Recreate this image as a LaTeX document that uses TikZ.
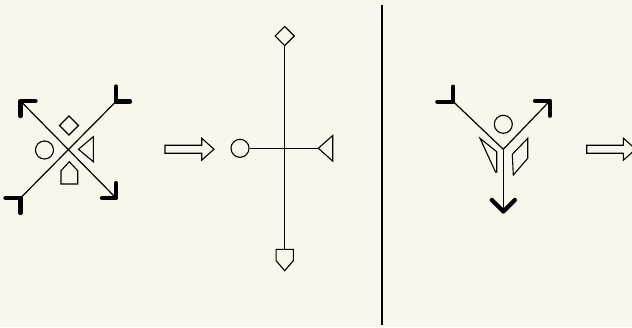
\documentclass[tikz,border=0pt]{standalone}
\usetikzlibrary{shapes.geometric}
\definecolor{paper}{RGB}{249,247,235}
\begin{document}
\begin{tikzpicture}[x=1pt, y=-1pt,
  ln/.style={line width=1.2pt},
  sym/.style={draw, line width=1.1pt, line join=miter},
  dot/.style={sym, circle, minimum size=18pt, inner sep=0pt},
  gem/.style={sym, diamond, minimum size=19.5pt, inner sep=0pt},
  barb/.style={line width=4.3pt, line cap=round, line join=round},
  hollow/.pic={\draw[sym] (0,-4) -- (36.7,-4) -- (36.7,-11) -- (49,0)
                 -- (36.7,11) -- (36.7,4) -- (0,4) -- cycle;},
]
  \fill[paper] (0,0) rectangle (632,327);
  \clip (0,0) rectangle (632,327);

  % crossed pair
  \coordinate (ul) at (20.5,101);
  \coordinate (ur) at (116,101.5);
  \coordinate (ll) at (20.5,198);
  \coordinate (lr) at (116,198);
  \draw[ln] (ul) -- (lr);
  \draw[ln] (ll) -- (ur);
  \draw[barb] (ul) ++(15,0) -- (ul) -- ++(0,15);
  \draw[barb] (lr) ++(-14,0) -- (lr) -- ++(0,-15);
  \draw[barb] (ur) ++(14,0) -- (ur) -- ++(0,-15);
  \draw[barb] (ll) ++(-15,0) -- (ll) -- ++(0,15);
  \node[gem] (d1) at (69,125.5) {};
  \node[dot] (o1) at (44.5,150) {};
  \draw[sym] (78.5,149.3) -- (93.3,136.7) -- (93.3,161.7) -- cycle;
  \draw[sym] (69.3,161.7) -- (77.7,170.7) -- (77.7,184) -- (61,184) -- (61,170.7) -- cycle;

  \pic at (165,149.2) {hollow};

  % upright cross
  \node[gem] (d2) at (284.7,36) {};
  \node[dot] (o2) at (240,148.3) {};
  \coordinate (t2) at (318.3,148.3);
  \coordinate (p2) at (284.7,249.3);
  \draw[ln] (d2.south) -- (p2);
  \draw[ln] (o2.east) -- (t2);
  \draw[sym] (t2) -- (332.7,135.5) -- (332.7,161.1) -- cycle;
  \draw[sym] (276.1,249.3) -- (293.3,249.3) -- (293.3,260.7) -- (284.7,270.7)
    -- (276.1,260.7) -- cycle;

  \draw[ln] (382,4.7) -- (382,325);

  % three arms
  \coordinate (c3) at (503.3,149.3);
  \coordinate (yl) at (453.3,101.7);
  \coordinate (yr) at (550,100.7);
  \coordinate (yd) at (503.3,211.5);
  \draw[ln] (yl) -- (c3) -- (yr);
  \draw[ln] (c3) -- (yd);
  \draw[barb] (yl) ++(-16,0) -- (yl) -- ++(0,-15);
  \draw[barb] (yr) ++(-15,0) -- (yr) -- ++(0,15);
  \draw[barb] (yd) ++(-11.5,-11.5) -- (yd) -- ++(11.5,-11.5);
  \node[dot] (o3) at (503.3,124.3) {};
  \draw[sym] (480,138.3) -- (496.7,151.7) -- (496.7,172) -- (495.5,172) -- cycle;
  \draw[sym] (512.3,154.3) -- (527.7,138.3) -- (527.7,158.3) -- (513.3,175) -- cycle;

  \pic at (586.7,149.2) {hollow};
\end{tikzpicture}
\end{document}
